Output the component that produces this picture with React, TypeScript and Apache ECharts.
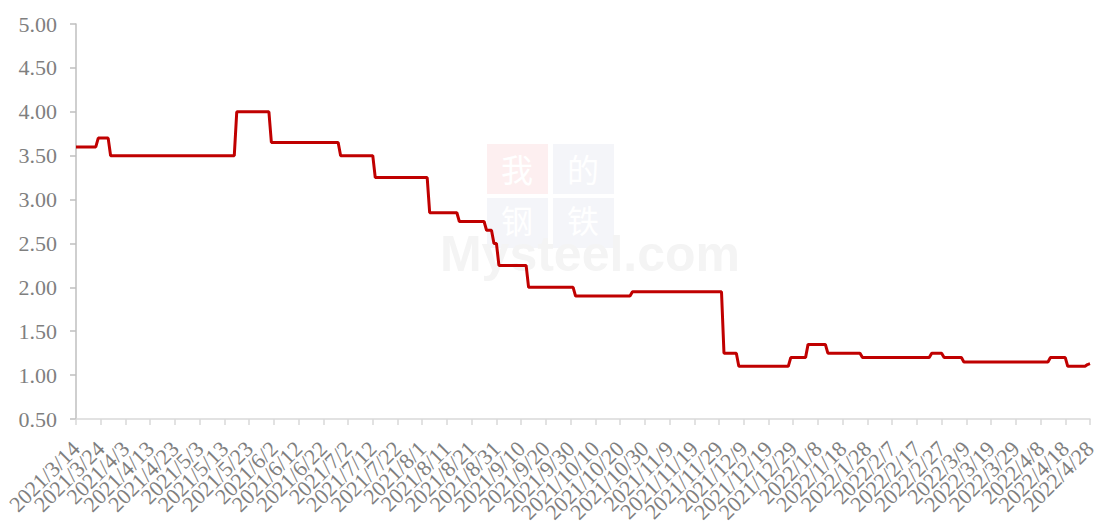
import React, { useEffect, useRef } from 'react';
import * as echarts from 'echarts';

// Date range of the daily category axis
const START_DATE = '2021/3/14';
const END_DATE = '2022/4/28';

// Dates on which the value changes, and the value from that date on
const changeDates = [
  '2021/3/14', '2021/3/23', '2021/3/28', '2021/5/18', '2021/6/1', '2021/6/29',
  '2021/7/13', '2021/8/4', '2021/8/16', '2021/8/27', '2021/8/30', '2021/9/1',
  '2021/9/13', '2021/10/2', '2021/10/25', '2021/12/1', '2021/12/7', '2021/12/28',
  '2022/1/4', '2022/1/12', '2022/1/26', '2022/2/23', '2022/2/28', '2022/3/8',
  '2022/4/12', '2022/4/19', '2022/4/27', '2022/4/28',
];
const changeValues = [
  3.6, 3.7, 3.5, 4.0, 3.65, 3.5,
  3.25, 2.85, 2.75, 2.65, 2.5, 2.25,
  2.0, 1.9, 1.95, 1.25, 1.1, 1.2,
  1.35, 1.25, 1.2, 1.25, 1.2, 1.15,
  1.2, 1.1, 1.12, 1.13,
];

const Y_MIN = 0.5;
const Y_MAX = 5;
const Y_INTERVAL = 0.5;
const LABEL_EVERY = 10; // days between x tick labels

function parseDate(s: string): number {
  const [y, m, d] = s.split('/').map(Number);
  return Date.UTC(y, m - 1, d);
}
function fmtDate(t: number): string {
  const d = new Date(t);
  return `${d.getUTCFullYear()}/${d.getUTCMonth() + 1}/${d.getUTCDate()}`;
}

const DAY = 86400000;
const categories: string[] = [];
const values: number[] = [];
{
  const changeTimes = changeDates.map(parseDate);
  const end = parseDate(END_DATE);
  let idx = 0;
  for (let t = parseDate(START_DATE); t <= end; t += DAY) {
    while (idx + 1 < changeTimes.length && changeTimes[idx + 1] <= t) idx++;
    categories.push(fmtDate(t));
    values.push(changeValues[idx]);
  }
}

export default function App() {
  const ref = useRef<HTMLDivElement>(null);
  useEffect(() => {
    if (!ref.current) return;
    const chart = echarts.init(ref.current, null, { renderer: 'svg' });
    const labelFont = '"Liberation Serif", "Times New Roman", serif';
    const cjk = '32px "Noto Sans CJK SC"';
    const cjkText = (text: string, x: number, y: number) => ({
      type: 'text', z: -9, x, y,
      style: { text, fill: '#ffffff', font: cjk, lineHeight: 30, textAlign: 'center', textVerticalAlign: 'middle' },
    });
    chart.setOption({
      animation: false,
      backgroundColor: '#ffffff',
      grid: { left: 76, right: 9, top: 24, bottom: 108, outerBoundsMode: 'none', containLabel: false },
      graphic: [
        { type: 'rect', z: -10, shape: { x: 487, y: 144, width: 61, height: 50 }, style: { fill: '#fdeff0' } },
        { type: 'rect', z: -10, shape: { x: 553, y: 144, width: 61, height: 50 }, style: { fill: '#f4f5f9' } },
        { type: 'rect', z: -10, shape: { x: 487, y: 198, width: 61, height: 50 }, style: { fill: '#f4f5f9' } },
        { type: 'rect', z: -10, shape: { x: 553, y: 198, width: 61, height: 50 }, style: { fill: '#f4f5f9' } },
        cjkText('我', 517, 168),
        cjkText('的', 583, 168),
        cjkText('钢', 517, 219),
        cjkText('铁', 583, 219),
        {
          type: 'text', z: -9, x: 590, y: 254,
          style: { text: 'Mysteel.com', fill: '#f4f4f4', font: 'bold 50px "Liberation Sans", Arial, sans-serif', lineHeight: 28, textAlign: 'center', textVerticalAlign: 'middle' },
        },
      ],
      xAxis: {
        type: 'category',
        data: categories,
        boundaryGap: false,
        axisLine: { show: true, lineStyle: { color: '#d9d9d9', width: 1.5 } },
        axisTick: { show: true, interval: LABEL_EVERY - 1, length: 6, lineStyle: { color: '#d9d9d9', width: 1.5 } },
        axisLabel: {
          interval: 0,
          formatter: (v: string, i: number) => (i % LABEL_EVERY === 0 ? v : ''),
          hideOverlap: false,
          rotate: 45,
          margin: 26,
          color: '#7f7f7f',
          fontFamily: labelFont,
          fontSize: 22,
        },
        splitLine: { show: false },
      },
      yAxis: {
        type: 'value',
        min: Y_MIN,
        max: Y_MAX,
        interval: Y_INTERVAL,
        axisLine: { show: true, lineStyle: { color: '#bfbfbf', width: 1.5 } },
        axisTick: { show: true, length: 6, lineStyle: { color: '#bfbfbf', width: 1.5 } },
        axisLabel: {
          formatter: (v: number) => v.toFixed(2),
          margin: 19,
          color: '#7f7f7f',
          fontFamily: labelFont,
          fontSize: 22,
        },
        splitLine: { show: false },
      },
      series: [
        {
          type: 'line',
          data: values,
          showSymbol: false,
          symbol: 'none',
          lineStyle: { color: '#c00000', width: 3 },
          itemStyle: { color: '#c00000' },
          z: 5,
        },
      ],
    });
    return () => chart.dispose();
  }, []);
  return (
    <div
      ref={ref}
      style={{ position: 'fixed', left: 0, top: 0, width: '1099px', height: '527px' }}
    />
  );
}
